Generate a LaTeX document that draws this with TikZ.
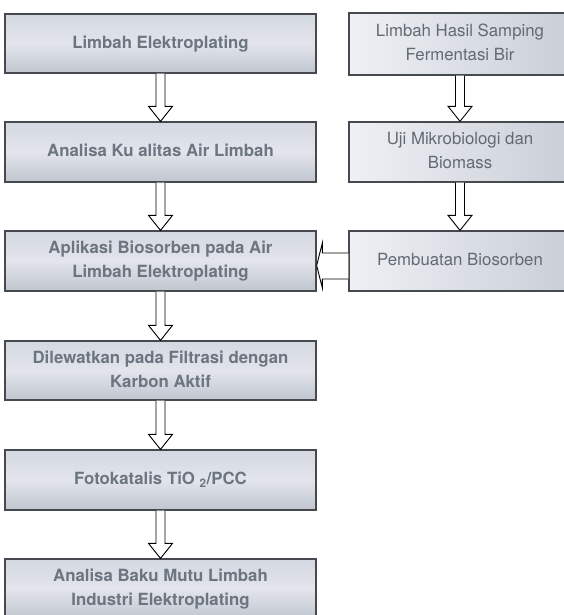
\documentclass[tikz,border=0pt]{standalone}
\usepackage{fontspec}
\setmainfont{TeX Gyre Heros}
\usetikzlibrary{calc}
\definecolor{ltop}{RGB}{212,216,224}
\definecolor{lmid}{RGB}{226,229,235}
\definecolor{lbot}{RGB}{192,197,206}
\definecolor{rleft}{RGB}{238,240,244}
\definecolor{rright}{RGB}{200,205,214}
\definecolor{ltext}{RGB}{108,117,128}
\definecolor{rtext}{RGB}{100,106,115}
\definecolor{boxline}{RGB}{70,74,80}
\newcommand\boxtxt[2]{\raisebox{#1}{\begin{tabular}{@{}c@{}}#2\end{tabular}}}
\newcommand\rtxt[2]{\boxtxt{#1}{#2}\rule{9pt}{0pt}}
\newcommand\varr[3][0]{%
  \draw[hollow] ($(#2.south)+(#1-4.5,0)$) -- ($(#3.north)+(#1-4.5,-15)$) -- ($(#3.north)+(#1-12,-15)$) -- ($(#3.north)+(#1,0)$) -- ($(#3.north)+(#1+12,-15)$) -- ($(#3.north)+(#1+4.5,-15)$) -- ($(#2.south)+(#1+4.5,0)$);}
\begin{document}
\begin{tikzpicture}[x=1pt,y=-1pt,
  lbox/.style={rectangle, draw=boxline, line width=1.3pt, top color=ltop, bottom color=lbot, middle color=lmid, minimum width=311pt, minimum height=60pt, inner sep=0pt, text=ltext, font=\fontsize{16.8}{24}\selectfont\bfseries},
  rbox/.style={rectangle, draw=boxline, line width=1.3pt, left color=rleft, right color=rright, minimum width=231pt, minimum height=60pt, inner sep=0pt, text=rtext, font=\fontsize{16.8}{23.5}\selectfont},
  hollow/.style={draw=black, line width=0.9pt, fill=white, line join=miter}]
\useasboundingbox (0,0) rectangle (564,615);
\node[lbox, minimum height=59pt] (l1) at (160.5,43.5) {\boxtxt{1.5pt}{Limbah Elektroplating}};
\node[lbox] (l2) at (160.5,152) {\boxtxt{0pt}{Analisa Ku alitas Air Limbah}};
\node[lbox] (l3) at (160.5,261) {\boxtxt{1.5pt}{Aplikasi Biosorben pada Air\\Limbah Elektroplating}};
\node[lbox, minimum height=59pt] (l4) at (160.5,370.5) {\boxtxt{0pt}{Dilewatkan pada Filtrasi dengan\\Karbon Aktif}};
\node[lbox] (l5) at (160.5,480) {\boxtxt{0pt}{Fotokatalis TiO \textsubscript{2}/PCC}};
\node[lbox] (l6) at (160.5,589) {\boxtxt{3pt}{Analisa Baku Mutu Limbah\\Industri Elektroplating}};
\node[rbox, minimum height=62pt] (r1) at (464.5,44) {\rtxt{-4.5pt}{Limbah Hasil Samping\\Fermentasi Bir}};
\node[rbox] (r2) at (464.5,152) {\rtxt{-3pt}{Uji Mikrobiologi dan\\Biomass}};
\node[rbox] (r3) at (464.5,261) {\rtxt{8pt}{Pembuatan Biosorben}};
\varr{l1}{l2}
\varr{l2}{l3}
\varr{l3}{l4}
\varr{l4}{l5}
\varr{l5}{l6}
\varr[-4.5]{r1}{r2}
\varr[-4.5]{r2}{r3}
\draw[hollow] ($(r3.west)+(0,-8)$) -- ($(r3.west)+(-26,-8)$) -- ($(r3.west)+(-26,-18)$) -- ($(l3.east)+(0,4.5)$) -- ($(r3.west)+(-26,27)$) -- ($(r3.west)+(-26,18)$) -- ($(r3.west)+(0,18)$);
\end{tikzpicture}
\end{document}
